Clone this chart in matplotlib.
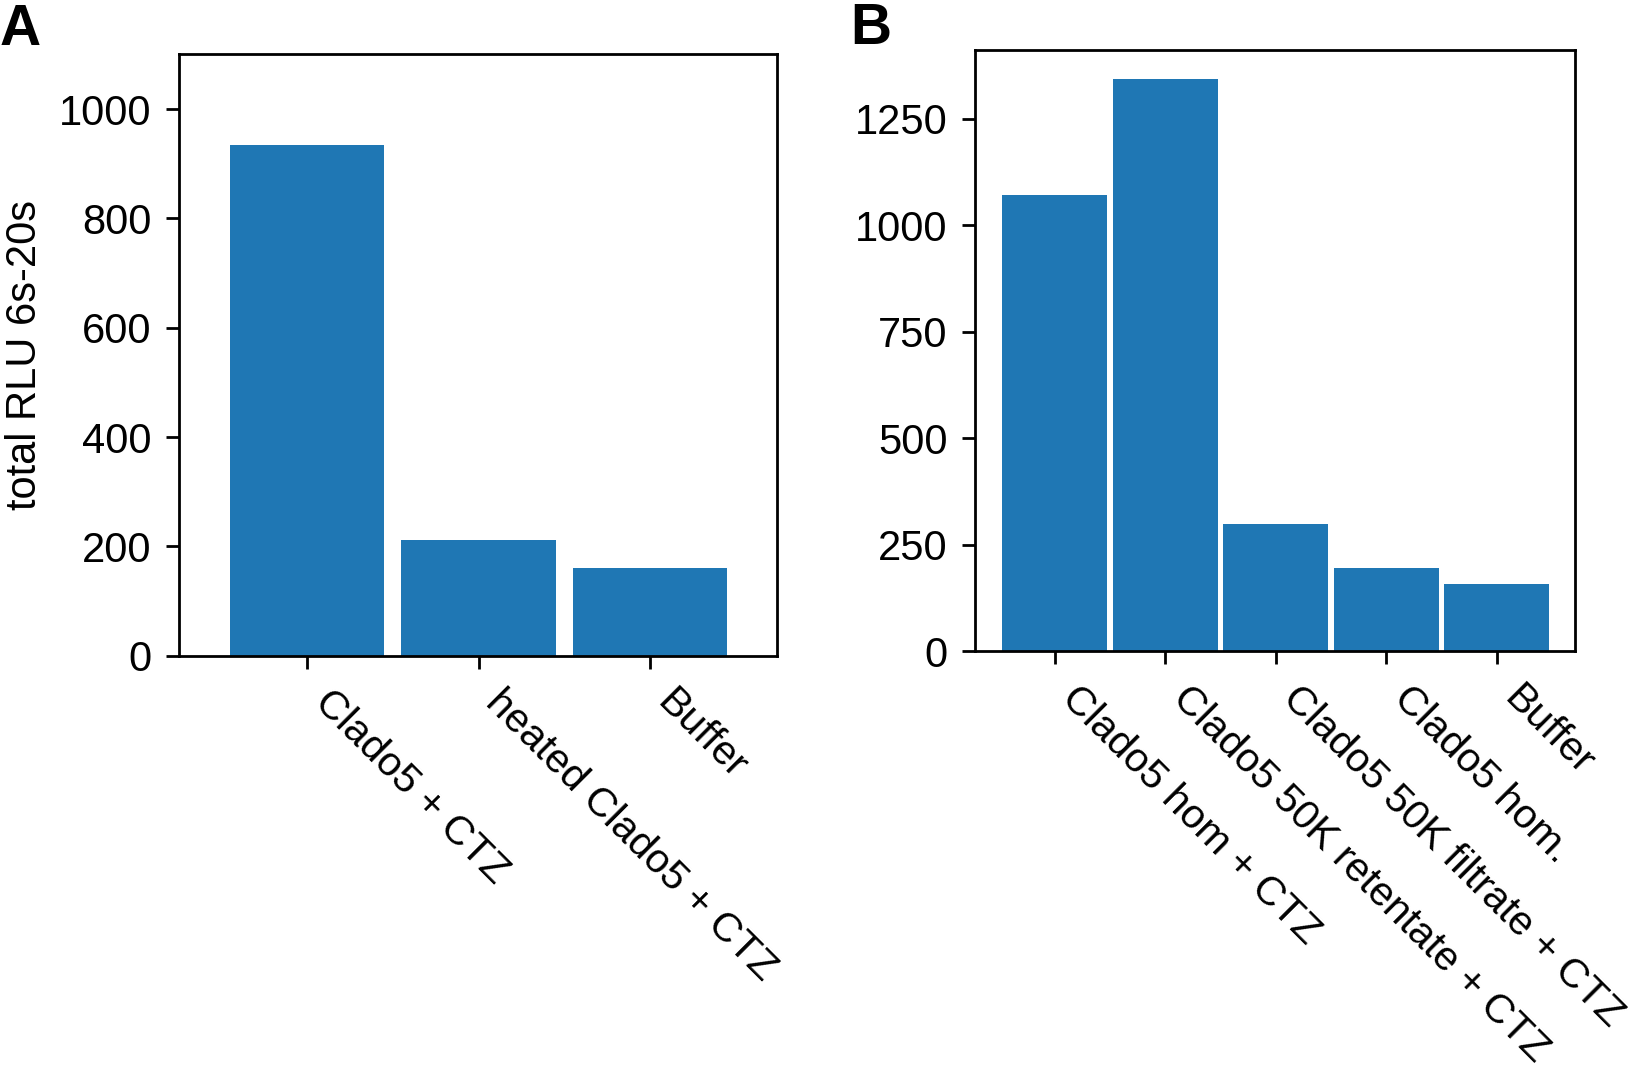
import matplotlib
matplotlib.use("Agg")
import matplotlib.pyplot as plt

plt.rcParams['font.family'] = ['Liberation Sans', 'DejaVu Sans']
plt.rcParams['font.size'] = 30
plt.rcParams['axes.linewidth'] = 2.0
plt.rcParams['xtick.major.width'] = 2.0
plt.rcParams['ytick.major.width'] = 2.0
plt.rcParams['xtick.major.size'] = 9.7
plt.rcParams['ytick.major.size'] = 9.7
plt.rcParams['ytick.major.pad'] = 10
plt.rcParams['xtick.major.pad'] = 10

cats_a = ["Clado5 + CTZ", "heated Clado5 + CTZ", "Buffer"]
vals_a = [935, 212, 160]

cats_b = ["Clado5 hom + CTZ", "Clado5 50K retentate + CTZ",
          "Clado5 50K filtrate + CTZ", "Clado5 hom.", "Buffer"]
vals_b = [1071, 1343, 298, 196, 159]

yticks_a = [0, 200, 400, 600, 800, 1000]
yticks_b = [0, 250, 500, 750, 1000, 1250]

fig = plt.figure(figsize=(16.39, 10.68), dpi=100)
ax_a = fig.add_axes([0.109, 0.386, 0.365, 0.563])
ax_b = fig.add_axes([0.595, 0.390, 0.366, 0.563])

color = '#1f77b4'

ax_a.bar(range(len(cats_a)), vals_a, width=0.9, color=color)
ax_a.set_xlim(-0.75, 2.74)
ax_a.set_ylim(0, 1100)
ax_a.set_yticks(yticks_a)
ax_a.set_xticks(range(len(cats_a)))
ax_a.set_xticklabels(cats_a, rotation=-45, ha='left', fontsize=29.5)
ax_a.set_ylabel("total RLU 6s-20s", labelpad=10, fontsize=30)

ax_b.bar(range(len(cats_b)), vals_b, width=0.95, color=color)
ax_b.set_xlim(-0.72, 4.71)
ax_b.set_ylim(0, 1411)
ax_b.set_yticks(yticks_b)
ax_b.set_xticks(range(len(cats_b)))
ax_b.set_xticklabels(cats_b, rotation=-45, ha='left', fontsize=29.5)

fig.text(0.0, 0.997, "A", fontsize=41, fontweight='bold', va='top', ha='left')
fig.text(0.519, 0.998, "B", fontsize=41, fontweight='bold', va='top', ha='left')

fig.savefig("out.png", dpi=100)
